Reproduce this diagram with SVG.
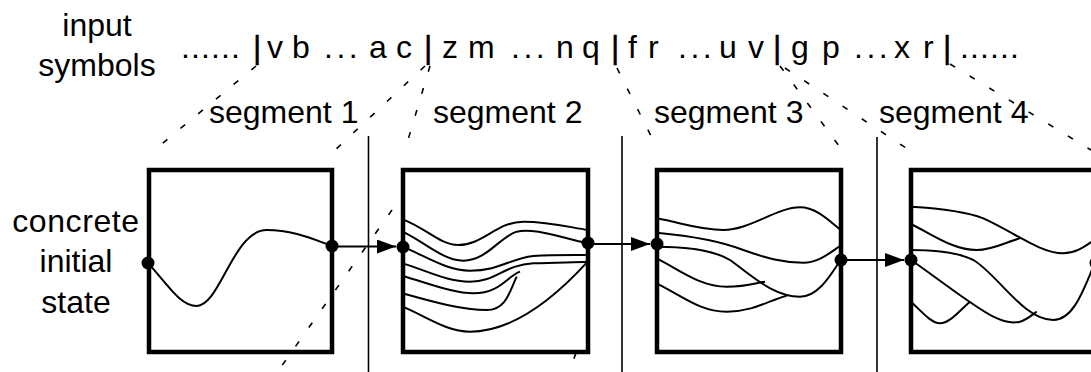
<svg xmlns="http://www.w3.org/2000/svg" width="1091" height="372" viewBox="0 0 1091 372">
<defs>
<marker id="arr" markerWidth="20" markerHeight="14" refX="19" refY="7" orient="auto" markerUnits="userSpaceOnUse"><path d="M0,0 L19,7 L0,14 Z" fill="#000"/></marker>
</defs>
<style>
text{font-family:"Liberation Sans",Arial,sans-serif;fill:#000;font-size:32px}
.bar{stroke:#000;stroke-width:0.5}
.ell{letter-spacing:3.5px}
.six{letter-spacing:1.1px}
.box{fill:none;stroke:#000;stroke-width:4.5}
.crv{fill:none;stroke:#000;stroke-width:6}
.dot{fill:#000}
.arrow{stroke:#000;stroke-width:2;fill:none;marker-end:url(#arr)}
.dash{stroke:#000;stroke-width:1.6;stroke-dasharray:6 17;fill:none}
.sep{stroke:#000;stroke-width:1.6}
</style>
<rect width="1091" height="372" fill="#fff"/>
<g id="labels">
<text x="97" y="36" text-anchor="middle">input</text>
<text x="97" y="76" text-anchor="middle">symbols</text>
<text x="76" y="232" text-anchor="middle" style="letter-spacing:0.6px">concrete</text>
<text x="76" y="272" text-anchor="middle">initial</text>
<text x="76" y="313" text-anchor="middle">state</text>
<text x="209" y="123">segment 1</text>
<text x="433" y="123">segment 2</text>
<text x="654" y="123">segment 3</text>
<text x="879" y="123">segment 4</text>
<text y="58"><tspan class="six" x="181">......</tspan><tspan class="bar" x="253">|</tspan><tspan x="267">v</tspan><tspan x="292">b</tspan><tspan class="ell" x="324">...</tspan><tspan x="369">a</tspan><tspan x="396">c</tspan><tspan class="bar" x="424">|</tspan><tspan x="442">z</tspan><tspan x="468">m</tspan><tspan class="ell" x="511">...</tspan><tspan x="556">n</tspan><tspan x="582">q</tspan><tspan class="bar" x="611">|</tspan><tspan x="628">f</tspan><tspan x="648">r</tspan><tspan class="ell" x="678">...</tspan><tspan x="719">u</tspan><tspan x="748">v</tspan><tspan class="bar" x="773">|</tspan><tspan x="791">g</tspan><tspan x="822">p</tspan><tspan class="ell" x="854">...</tspan><tspan x="894">x</tspan><tspan x="923">r</tspan><tspan class="bar" x="943">|</tspan><tspan class="six" x="960">......</tspan></text>
</g>
<g id="connectors">
<line class="sep" x1="368.5" y1="136" x2="368.5" y2="372"/>
<line class="sep" x1="622" y1="136" x2="622" y2="372"/>
<line class="sep" x1="877" y1="137" x2="877" y2="372"/>
<path class="dash" d="M256,66 L152,152"/>
<path class="dash" d="M425,66 L335,150"/>
<path class="dash" d="M430,66 L405,150"/>
<path class="dash" d="M392,210 L276,374"/>
<path class="dash" d="M576,353 L573,361"/>
<path class="dash" d="M617,68 L658,150"/>
<path class="dash" d="M780,66 L842,150"/>
<path class="dash" d="M785,68 L912,152"/>
<path class="dash" d="M950,64 L1091,150"/>
<line class="arrow" x1="338" y1="246.5" x2="396" y2="246.5"/>
<line class="arrow" x1="594" y1="244" x2="650" y2="244"/>
<line class="arrow" x1="847" y1="260" x2="904" y2="260"/>
</g>
<g id="box1">
<rect class="box" x="149" y="170" width="183" height="182"/>
<g transform="translate(0,150) scale(0.33333)">
<path class="crv" d="M445,340 C500,400 540,468 590,468 C660,468 700,240 800,240 C880,240 940,268 997,288"/>
</g>
<circle class="dot" cx="148" cy="263" r="6.5"/>
<circle class="dot" cx="332" cy="246" r="6.5"/>
</g>
<g id="box2">
<rect class="box" x="403" y="170" width="185" height="182"/>
<g transform="translate(360,150) scale(0.33333)">
<path class="crv" d="M128,208 C200,235 240,285 295,285 C370,285 410,215 490,215 C570,215 630,232 683,240"/>
<path class="crv" d="M128,245 C200,280 250,332 310,332 C380,332 420,260 470,245 C520,232 600,262 683,280"/>
<path class="crv" d="M128,290 C200,320 260,362 330,362 C420,362 450,325 520,318 C580,314 640,315 683,315"/>
<path class="crv" d="M128,340 C200,362 260,395 330,395 C410,395 430,345 520,340 C600,337 650,337 683,335"/>
<path class="crv" d="M128,378 C200,398 280,430 340,430 C420,430 440,380 480,365"/>
<path class="crv" d="M128,430 C200,450 300,480 380,480 C440,480 450,420 470,380"/>
<path class="crv" d="M128,470 C200,500 260,545 330,545 C440,545 560,470 683,335"/>
</g>
<circle class="dot" cx="403" cy="247" r="6.5"/>
<circle class="dot" cx="588" cy="243" r="6.5"/>
</g>
<g id="box3">
<rect class="box" x="657" y="170" width="184" height="182"/>
<g transform="translate(600,150) scale(0.33333)">
<path class="crv" d="M170,205 C250,220 300,240 370,240 C450,240 530,172 600,172 C650,172 690,215 722,240"/>
<path class="crv" d="M170,248 C300,260 380,280 430,300 C500,325 550,338 610,338 C660,338 700,300 722,287"/>
<path class="crv" d="M170,290 C260,290 340,300 390,330 C460,380 520,440 600,440 C660,440 700,360 722,330"/>
<path class="crv" d="M170,325 C240,360 300,410 380,410 C440,410 470,398 495,395"/>
<path class="crv" d="M170,400 C250,440 300,485 380,485 C460,485 510,450 560,437"/>
</g>
<circle class="dot" cx="657" cy="244" r="6.5"/>
<circle class="dot" cx="841" cy="260" r="6.5"/>
</g>
<g id="box4">
<rect class="box" x="911" y="170" width="184" height="182"/>
<g transform="translate(840,150) scale(0.33333)">
<path class="crv" d="M213,170 C300,175 380,185 430,205 C520,245 600,310 670,310 C710,310 740,285 760,272"/>
<path class="crv" d="M213,222 C280,255 340,300 410,300 C460,300 500,275 540,265"/>
<path class="crv" d="M213,300 C300,300 360,310 400,330 C470,370 550,510 640,510 C700,510 730,420 760,350"/>
<path class="crv" d="M213,330 C300,390 400,470 460,500 C490,515 520,520 540,515 C560,510 575,495 590,485"/>
<path class="crv" d="M213,455 C250,490 275,520 300,520 C330,520 360,480 390,455"/>
</g>
<circle class="dot" cx="911" cy="260" r="6.5"/>
<circle class="dot" cx="1096" cy="263" r="6.5"/>
</g>
</svg>
